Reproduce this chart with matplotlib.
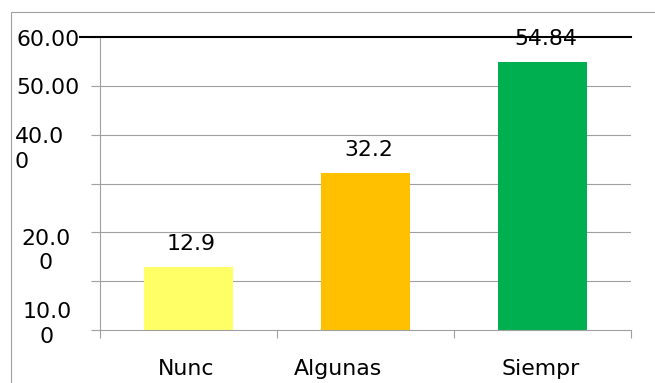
import matplotlib
matplotlib.use("Agg")
import matplotlib.pyplot as plt
from matplotlib.patches import Rectangle

categories = ["Nunc", "Algunas", "Siempr"]
values = [12.9, 32.2, 54.84]
value_labels = ["12.9", "32.2", "54.84"]
colors = ["#FFFF66", "#FFC000", "#00B050"]
yticks = [0, 10, 20, 30, 40, 50, 60]
ytick_labels = ["", "10.0\n0", "20.0\n0", "", "40.0\n0", "50.00", "60.00"]

W, H = 655, 383
plt.rcParams['font.family'] = ['DejaVu Sans']
FS = 15.8
fig = plt.figure(figsize=(W / 100, H / 100), dpi=100)
fig.patch.set_facecolor("white")

ax = fig.add_axes([100 / W, 1 - 330 / H, 531 / W, 293 / H])
ax.set_xlim(-0.5, 2.5)
ax.set_ylim(0, 60)

grey = "#a0a0a0"
for yv in yticks[1:-1]:
    ax.axhline(yv, color=grey, lw=0.8, zorder=1)
ax.plot([-20 / 531, 1.0], [60, 60], color="black", lw=1.5,
        transform=ax.get_yaxis_transform(), clip_on=False, zorder=3)

x = list(range(len(categories)))
ax.bar(x, values, width=0.5, color=colors, zorder=2)

for spine in ["top", "right"]:
    ax.spines[spine].set_visible(False)
for spine in ["left", "bottom"]:
    ax.spines[spine].set_color(grey)
    ax.spines[spine].set_linewidth(0.8)

ax.set_xticks([-0.5, 0.5, 1.5, 2.5])
ax.set_xticklabels([])
ax.set_yticks(yticks)
ax.set_yticklabels([])
ax.tick_params(axis="x", direction="out", length=6, width=0.8, color=grey)
ax.tick_params(axis="y", direction="out", length=6.5, width=0.8, color=grey)

# y labels (as drawn in the reference); offsets place the last line's baseline
ylab_style = {
    60: dict(dx=-20, dy=-8.5, ha="right", ma="right"),
    50: dict(dx=-20, dy=-8.5, ha="right", ma="right"),
    40: dict(dx=-85, dy=-33, ha="left", ma="left"),
    20: dict(dx=-54, dy=-37, ha="center", ma="center"),
    10: dict(dx=-53, dy=-62, ha="center", ma="center"),
}
clip_rect = Rectangle((0, 1 - 343 / H), 1, 343 / H, transform=fig.transFigure)
for yv, lab in zip(yticks, ytick_labels):
    if not lab:
        continue
    s = ylab_style[yv]
    t = ax.annotate(lab, xy=(0, yv), xycoords=("axes fraction", "data"),
                    xytext=(s["dx"], s["dy"]), textcoords="offset pixels",
                    ha=s["ha"], multialignment=s["ma"], va="baseline",
                    fontsize=FS, color="black", linespacing=1.3,
                    annotation_clip=False)
    t.set_clip_path(clip_rect)
    t.set_clip_on(True)

# category labels
cat_dx = [-2.5, -27.5, -1.5]
for xi, lab, dx in zip(x, categories, cat_dx):
    ax.annotate(lab, xy=(xi, 0), xycoords="data", xytext=(dx, -45),
                textcoords="offset pixels", ha="center", va="baseline",
                fontsize=FS, color="black", annotation_clip=False)

# value labels
for xi, v, lab in zip(x, values, value_labels):
    ax.annotate(lab, xy=(xi, v), xytext=(3, 17), textcoords="offset pixels",
                ha="center", va="baseline", fontsize=FS, color="black",
                annotation_clip=False, zorder=4)

# chart border
fig.add_artist(Rectangle((11 / W, -0.1), 1.0, 1.1 - 12 / H, fill=False,
                         edgecolor=grey, lw=0.8, transform=fig.transFigure))

fig.savefig("out.png", dpi=100, facecolor="white")
